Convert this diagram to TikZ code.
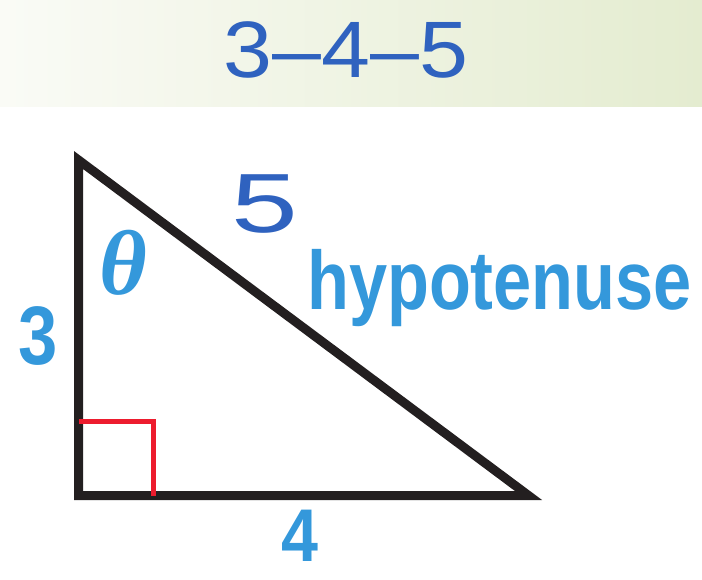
\documentclass[tikz,border=0pt]{standalone}
\usepackage{fontspec}
\setmainfont{Liberation Sans}
\newfontfamily\greekserif{Liberation Serif}
\usetikzlibrary{positioning}

\definecolor{labelblue}{HTML}{3498DB}
\definecolor{inkblue}{HTML}{2F62BF}
\definecolor{anglered}{HTML}{ED1C2E}
\definecolor{edgeblack}{HTML}{231F20}
\definecolor{bandleft}{HTML}{FAFBF6}
\definecolor{bandright}{HTML}{E4ECD0}

\tikzset{
  side/.style={draw=edgeblack, line width=9pt, line join=miter},
  rightangle/.style={draw=anglered, line width=5pt},
  sidelabel/.style={text=labelblue, inner sep=0pt,
    font=\fontsize{83}{83}\selectfont\bfseries},
  ink/.style={text=inkblue, inner sep=0pt,
    font=\fontsize{80}{80}\selectfont},
}

\begin{document}
\begin{tikzpicture}[x=1pt, y=-1pt]

  \useasboundingbox (0,0) rectangle (702,580);
  \shade[left color=bandleft, right color=bandright] (0,0) rectangle (702,107);

  \coordinate (top)   at (78.5,160);
  \coordinate (right) at (528.5,495.5);
  \coordinate (corner) at (78.5,495.5);

  \draw[side] (top) -- (corner) -- (right) -- cycle;
  \draw[rightangle] (78.5,421.5) -- (153,421.5) -- (153,495.5);

  \node[ink]                 (title)  at (346,50)  {\scalebox{1.1}[1]{3–4–5}} ;
  \node[ink]                 (five)   at (265,204) {\scalebox{1.5}[1.05]{5}} ;
  \node[sidelabel]           (three)  at (38,336)  {\scalebox{0.85}[1]{3}} ;
  \node[sidelabel]           (four)   at (300,536) {\scalebox{0.8}[0.9]{4}} ;
  \node[sidelabel, font=\fontsize{92}{92}\greekserif\bfseries\itshape]
                             (theta)  at (123,263) {θ} ;
  \node[sidelabel, anchor=base west] (hyp) at (307,310)
                             {\scalebox{0.826}[1]{hypotenuse}} ;

\end{tikzpicture}
\end{document}
